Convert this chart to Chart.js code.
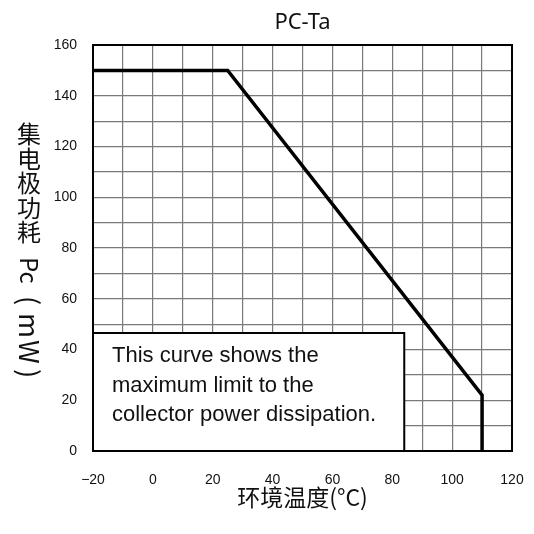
<!DOCTYPE html>
<html>
<head>
<meta charset="utf-8">
<script src="https://cdn.jsdelivr.net/npm/chart.js@4/dist/chart.umd.min.js"></script>
<style>
  html, body { margin: 0; padding: 0; background: #fff; }
  #wrap { width: 534px; height: 534px; }
</style>
</head>
<body>
<div id="wrap"><canvas id="myChart" width="534" height="534"></canvas></div>
<script>
// 曲线数据 (环境温度 °C -> 集电极功耗 mW)
const tempC = [-20, 25, 110, 110];
const powerMW = [150, 150, 22, 0];

// 刻度标签
const xTickLabels = ['−20', '0', '20', '40', '60', '80', '100', '120'];
const yTickLabels = ['0', '20', '40', '60', '80', '100', '120', '140', '160'];

const chartTitle = 'PC-Ta';
const xTitle = '环境温度(°C)';
const yTitleCjk = ['集', '电', '极', '功', '耗'];
const yTitlePc = 'Pc';
const yTitleUnit = ['(', 'm', 'W', ')'];
const noteLines = ['This curve shows the', 'maximum limit to the', 'collector power dissipation.'];

const points = tempC.map(function(t, i) { return { x: t, y: powerMW[i] }; });

// 外框 + 说明框 + 纵轴标题
const extras = {
    id: 'extras',
    afterDatasetsDraw: function(chart) {
        const ctx = chart.ctx;
        const a = chart.chartArea;
        const xs = chart.scales.x, ys = chart.scales.y;
        ctx.save();
        // 外框
        ctx.strokeStyle = '#000';
        ctx.lineWidth = 2;
        ctx.strokeRect(a.left, a.top, a.right - a.left, a.bottom - a.top);

        // 说明框
        const bx0 = xs.getPixelForValue(-20), bx1 = xs.getPixelForValue(84);
        const by0 = ys.getPixelForValue(46.5), by1 = ys.getPixelForValue(0);
        ctx.fillStyle = '#fff';
        ctx.fillRect(bx0, by0, bx1 - bx0, by1 - by0);
        ctx.strokeRect(bx0, by0, bx1 - bx0, by1 - by0);
        ctx.fillStyle = '#111';
        ctx.font = '22px "Liberation Sans", Arial, sans-serif';
        ctx.textBaseline = 'middle';
        ctx.textAlign = 'left';
        noteLines.forEach(function(line, i) {
            ctx.fillText(line, bx0 + 19, by0 + 23 + i * 29.5);
        });
        ctx.restore();
    },
    afterDraw: function(chart) {
        const ctx = chart.ctx;
        ctx.save();
        ctx.fillStyle = '#111';
        ctx.textAlign = 'center';
        ctx.textBaseline = 'middle';
        ctx.font = '24px "Noto Sans CJK SC", sans-serif';
        const cx = 29;
        yTitleCjk.forEach(function(ch, i) {
            ctx.fillText(ch, cx, 134 + i * 24.5);
        });
        // 拉丁部分顺时针旋转
        ctx.translate(cx, 0);
        ctx.rotate(Math.PI / 2);
        ctx.textAlign = 'left';
        ctx.font = '24px "Noto Sans CJK SC", sans-serif';
        ctx.fillText(yTitlePc, 257, 0);
        ctx.font = '27px "Noto Sans CJK SC", sans-serif';
        const unitPos = [296, 313, 340, 369];
        yTitleUnit.forEach(function(ch, i) {
            ctx.fillText(ch, unitPos[i], 0);
        });
        ctx.restore();
    }
};

const ctx = document.getElementById('myChart').getContext('2d');
new Chart(ctx, {
    type: 'scatter',
    data: {
        datasets: [{
            data: points,
            showLine: true,
            borderColor: '#000',
            borderWidth: 3.5,
            pointRadius: 0,
            tension: 0
        }]
    },
    options: {
        responsive: false,
        animation: false,
        layout: { padding: { left: 0, right: 22, top: 0, bottom: 0 } },
        plugins: {
            legend: { display: false },
            tooltip: { enabled: false },
            title: {
                display: true,
                text: chartTitle,
                fullSize: false,
                color: '#111',
                font: { family: '"Noto Sans", sans-serif', size: 22, weight: 'normal' },
                padding: { top: 10, bottom: 8.6 }
            }
        },
        scales: {
            x: {
                type: 'linear',
                min: -20,
                max: 120,
                afterFit: function(scale) { scale.height = 83; },
                ticks: {
                    stepSize: 10,
                    autoSkip: false,
                    maxRotation: 0,
                    padding: 4,
                    color: '#111',
                    font: { family: '"Liberation Sans", Arial, sans-serif', size: 14 },
                    callback: function(value) {
                        const idx = (value + 20) / 20;
                        return Number.isInteger(idx) ? xTickLabels[idx] : '';
                    }
                },
                grid: { color: '#7a7a7a', lineWidth: 1.2, drawTicks: true, tickLength: 17, tickColor: 'rgba(0,0,0,0)' },
                border: { display: false },
                title: {
                    display: true,
                    text: xTitle,
                    color: '#111',
                    font: { family: '"Noto Sans CJK SC", sans-serif', size: 23 },
                    padding: { top: 0, bottom: 23 }
                }
            },
            y: {
                min: 0,
                max: 160,
                afterFit: function(scale) { scale.width = 93; },
                ticks: {
                    stepSize: 10,
                    autoSkip: false,
                    padding: 16,
                    color: '#111',
                    font: { family: '"Liberation Sans", Arial, sans-serif', size: 14 },
                    callback: function(value) {
                        const idx = value / 20;
                        return Number.isInteger(idx) ? yTickLabels[idx] : '';
                    }
                },
                grid: { color: '#7a7a7a', lineWidth: 1.2, drawTicks: false },
                border: { display: false }
            }
        }
    },
    plugins: [extras]
});
</script>
</body>
</html>
